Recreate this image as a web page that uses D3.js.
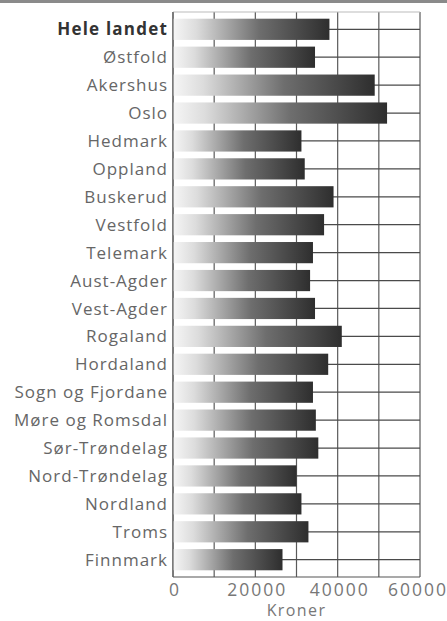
<!DOCTYPE html>
<html>
<head>
<meta charset="utf-8">
<script src="https://cdn.jsdelivr.net/npm/d3@7"></script>
<style>
  body { margin: 0; background: #fff; }
  svg { display: block; }
  text { font-family: "Open Sans", sans-serif; }
</style>
</head>
<body>
<div id="chart"></div>
<script>
// Regions (first row is the national total)
var regions = ["Hele landet", "Østfold", "Akershus", "Oslo", "Hedmark", "Oppland",
  "Buskerud", "Vestfold", "Telemark", "Aust-Agder", "Vest-Agder", "Rogaland",
  "Hordaland", "Sogn og Fjordane", "Møre og Romsdal", "Sør-Trøndelag",
  "Nord-Trøndelag", "Nordland", "Troms", "Finnmark"];

// Kroner per region
var values = [38000, 34500, 49000, 52000, 31200, 32000,
  39000, 36700, 34000, 33300, 34500, 41000,
  37700, 34000, 34700, 35300,
  30000, 31200, 32900, 26600];

var tickValues = [0, 20000, 40000, 60000];
var axisTitle = "Kroner";

var width = 447, height = 621;
var margin = { top: 12, right: 27, bottom: 44, left: 173 };
var innerW = width - margin.left - margin.right,
  innerH = height - margin.top - margin.bottom;

var svg = d3.select("#chart")
  .append("svg")
  .attr("width", width)
  .attr("height", height);

// grey strip along the top edge of the scan
svg.append("rect")
  .attr("x", 0).attr("y", 0)
  .attr("width", width).attr("height", 3)
  .attr("fill", "#8a8a8a");

var defs = svg.append("defs");
var grad = defs.append("linearGradient")
  .attr("id", "barGrad")
  .attr("x1", "0%").attr("x2", "100%")
  .attr("y1", "0%").attr("y2", "0%");
grad.append("stop").attr("offset", "0%").attr("stop-color", "#f6f6f6");
grad.append("stop").attr("offset", "15%").attr("stop-color", "#dcdcdc");
grad.append("stop").attr("offset", "55%").attr("stop-color", "#6e6e6e");
grad.append("stop").attr("offset", "100%").attr("stop-color", "#2e2e2e");

var g = svg.append("g")
  .attr("transform", "translate(" + margin.left + "," + margin.top + ")");

// Scales
var x = d3.scaleLinear()
  .domain([0, 60000])
  .range([0, innerW]);

var y = d3.scaleBand()
  .domain(regions)
  .range([0, innerH])
  .padding(0.24);

// Vertical grid lines every 10000
g.append("g")
  .selectAll("line")
  .data(d3.range(0, 60001, 10000))
  .enter().append("line")
  .attr("x1", function(d) { return x(d); })
  .attr("x2", function(d) { return x(d); })
  .attr("y1", 0)
  .attr("y2", innerH)
  .attr("stroke", "#5a5a5a")
  .attr("stroke-width", 1.2);

// Horizontal grid lines through the middle of each band
g.append("g")
  .selectAll("line")
  .data(regions)
  .enter().append("line")
  .attr("x1", 0)
  .attr("x2", innerW)
  .attr("y1", function(d) { return y(d) + y.bandwidth() / 2; })
  .attr("y2", function(d) { return y(d) + y.bandwidth() / 2; })
  .attr("stroke", "#4a4a4a")
  .attr("stroke-width", 1.2);

// Frame top and bottom
g.append("line")
  .attr("x1", 0).attr("x2", innerW)
  .attr("y1", 0).attr("y2", 0)
  .attr("stroke", "#bbb");
g.append("line")
  .attr("x1", 0).attr("x2", innerW)
  .attr("y1", innerH).attr("y2", innerH)
  .attr("stroke", "#555")
  .attr("stroke-width", 1.2);

// Bars
g.append("g")
  .selectAll("rect")
  .data(values)
  .enter().append("rect")
  .attr("x", 0)
  .attr("y", function(d, i) { return y(regions[i]); })
  .attr("width", function(d) { return x(d); })
  .attr("height", y.bandwidth())
  .attr("fill", "url(#barGrad)");

// Left axis line
g.append("line")
  .attr("x1", 0).attr("x2", 0)
  .attr("y1", 0).attr("y2", innerH)
  .attr("stroke", "#666")
  .attr("stroke-width", 1.2);

// Category labels
g.append("g")
  .selectAll("text")
  .data(regions)
  .enter().append("text")
  .attr("x", -5)
  .attr("y", function(d) { return y(d) + y.bandwidth() / 2; })
  .attr("dy", "0.36em")
  .attr("text-anchor", "end")
  .attr("font-size", 17)
  .attr("letter-spacing", function(d, i) { return i === 0 ? 1.2 : 1.0; })
  .attr("font-weight", function(d, i) { return i === 0 ? "bold" : "normal"; })
  .attr("fill", function(d, i) { return i === 0 ? "#333" : "#666"; })
  .text(function(d) { return d; });

// X axis tick labels
g.append("g")
  .selectAll("text")
  .data(tickValues)
  .enter().append("text")
  .attr("x", function(d, i) { return i === tickValues.length - 1 ? x(d) - 2 : x(d) + 2; })
  .attr("y", innerH + 19)
  .attr("text-anchor", "middle")
  .attr("font-size", 17.5)
  .attr("letter-spacing", 2)
  .attr("fill", "#777")
  .text(function(d) { return d; });

// Axis title
g.append("text")
  .attr("x", innerW / 2)
  .attr("y", innerH + 39)
  .attr("text-anchor", "middle")
  .attr("font-size", 16)
  .attr("letter-spacing", 1.4)
  .attr("fill", "#777")
  .text(axisTitle);
</script>
</body>
</html>
